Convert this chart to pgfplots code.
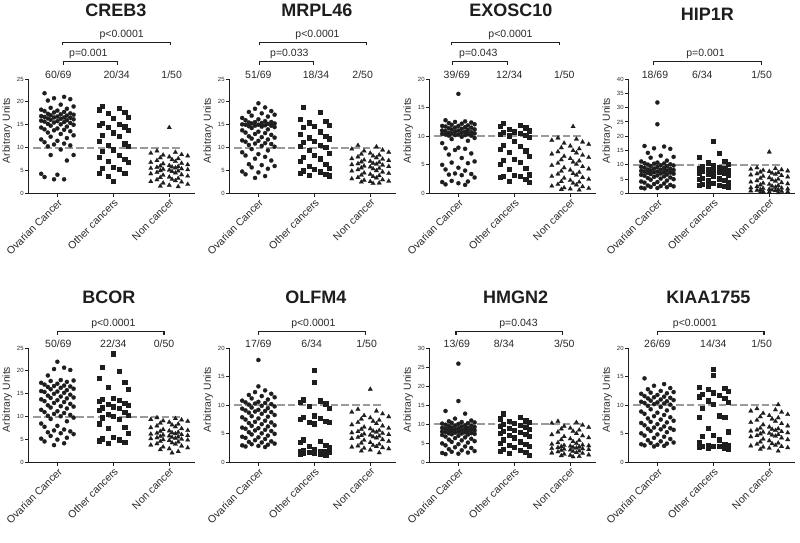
\documentclass[border=0pt]{standalone}
\usepackage{fontspec}
\setmainfont{Liberation Sans}
\usepackage{pgfplots}
\usepackage{pgfplotstable}
\pgfplotsset{compat=1.18}
\definecolor{ink}{HTML}{1E1E1E}
\definecolor{txt}{HTML}{2A2A2A}
\definecolor{dashc}{HTML}{9A9A9A}
\newcommand\lab{\fontsize{10.5}{12}\selectfont}
\pgfplotsset{
 pan/.style={scale only axis, width=166.7pt, height=114.5pt,
  xmin=-0.52, xmax=2.46, ymin=0, anchor=south west,
  axis lines*=left, axis line style={line width=1.3pt, ink},
  xtick={0,1,2}, xticklabels={Ovarian Cancer,Other cancers,Non cancer},
  x tick label style={rotate=45, anchor=north east, font=\lab, text=txt, inner sep=1pt},
  y tick label style={font=\fontsize{6}{7}\selectfont, text=txt, inner sep=1.5pt},
  ytick distance=5,
  tick style={line width=1pt, ink}, tick align=outside, major tick length=3pt,
  ylabel={Arbitrary Units},
  ylabel style={font=\fontsize{10.3}{12}\selectfont, text=txt, at={(axis description cs:-0.126,0.55)}, anchor=center},
  clip=false, /pgf/number format/assume math mode=true},
 ov/.style={only marks, mark=*, mark size=2.1pt, color=ink, mark options={line width=0.2pt}},
 ot/.style={only marks, mark=square*, mark size=2.1pt, color=ink, mark options={line width=0.2pt}},
 nc/.style={only marks, mark=triangle*, mark size=2.6pt, color=ink, mark options={line width=0.2pt}},
}
\newcommand\ovplot[1]{%
\addplot[ov] table[x expr=-0.23,y=a]{#1};
\addplot[ov] table[x expr=0.12,y=b]{#1};
\addplot[ov] table[x expr=-0.06,y=c]{#1};
\addplot[ov] table[x expr=0.23,y=d]{#1};
\addplot[ov] table[x expr=-0.17,y=e]{#1};
\addplot[ov] table[x expr=0.06,y=f]{#1};
\addplot[ov] table[x expr=0.29,y=g]{#1};
\addplot[ov] table[x expr=-0.12,y=h]{#1};
\addplot[ov] table[x expr=0.17,y=i]{#1};
\addplot[ov] table[x expr=-0.29,y=j]{#1};
\addplot[ov] table[x expr=0,y=k]{#1};}
\newcommand\otplot[1]{%
\addplot[ot] table[x expr=0.8,y=a]{#1};
\addplot[ot] table[x expr=1.1,y=b]{#1};
\addplot[ot] table[x expr=0.74,y=c]{#1};
\addplot[ot] table[x expr=1.2,y=d]{#1};
\addplot[ot] table[x expr=0.9,y=e]{#1};
\addplot[ot] table[x expr=1.26,y=f]{#1};
\addplot[ot] table[x expr=1.0,y=g]{#1};}
\newcommand\ncplot[1]{%
\addplot[nc] table[x expr=1.78,y=a]{#1};
\addplot[nc] table[x expr=2.11,y=b]{#1};
\addplot[nc] table[x expr=1.67,y=c]{#1};
\addplot[nc] table[x expr=2.22,y=d]{#1};
\addplot[nc] table[x expr=1.89,y=e]{#1};
\addplot[nc] table[x expr=2.33,y=f]{#1};
\addplot[nc] table[x expr=2.0,y=g]{#1};
\addplot[nc] table[x expr=1.84,y=h]{#1};
\addplot[nc] table[x expr=2.16,y=i]{#1};
\addplot[nc] table[x expr=2.05,y=j]{#1};}
\newcommand\thr{\draw[dashc, line width=2.2pt, dash pattern=on 7.5pt off 3.2pt] (axis cs:-0.43,10) -- (axis cs:2.22,10);}
\newcommand\fr[2]{\node[anchor=base, font=\lab, text=txt, inner sep=0pt] at (rel axis cs:#1,1.006) {#2};}
\newcommand\ttl[3]{\node[font=\bfseries\fontsize{18}{20}\selectfont, text=ink, inner sep=0pt] at (rel axis cs:#1,#2) {#3};}
\newcommand\brk[4]{\draw[ink, line width=1.5pt] (rel axis cs:#1,#4) -- (rel axis cs:#1,#3) -- (rel axis cs:#2,#3) -- (rel axis cs:#2,#4);}
\newcommand\pv[3]{\node[anchor=base, font=\lab, text=txt, inner sep=0pt] at (rel axis cs:#1,#2) {#3};}

% ---------------- CREB3
\pgfplotstableread{
a b c d e f g h i j k
21.9 21.1 20.8 20.6 20.3 19.4 19.0 18.7 18.5 18.3 18.1
18.0 17.8 17.7 17.5 17.4 17.3 17.2 17.1 17.0 16.9 16.8
16.7 16.6 16.6 16.5 16.4 16.3 16.2 16.1 16.0 15.9 15.8
15.7 15.6 15.5 15.4 15.2 15.1 15.0 14.8 14.6 14.4 14.2
14.0 13.9 13.8 13.6 13.3 13.0 12.7 12.4 12.1 11.8 11.5
11.2 10.9 10.7 10.5 10.3 9.6 8.4 8.4 7.2 4.3 4.1
3.6 3.1 3.1 nan nan nan nan nan nan nan nan
}\tCrOv
\pgfplotstableread{
a b c d e f g
19.0 18.6 18.3 17.8 17.5 16.6 16.4
15.4 15.2 15.0 14.6 14.5 13.8 13.3
12.8 12.5 11.5 10.9 10.6 10.3 9.6
9.2 8.3 8.0 7.5 7.0 6.8 5.8
5.5 5.3 4.5 4.5 3.8 nan 2.7
}\tCrOt
\pgfplotstableread{
a b c d e f g h i j
9.3 9.0 8.8 8.5 8.4 8.2 8.0 7.8 7.6 7.4
7.2 7.0 6.8 6.6 6.5 6.3 6.1 6.0 5.9 5.8
5.7 5.6 5.5 5.4 5.3 5.2 5.1 5.0 4.9 4.8
4.6 4.5 4.3 4.1 4.0 3.8 3.6 3.5 3.3 3.1
3.0 2.8 2.6 2.5 2.3 2.0 1.8 1.6 1.5 nan
}\tCrNc
% ---------------- MRPL46
\pgfplotstableread{
a b c d e f g h i j k
nan 18.8 18.5 18.0 17.8 17.5 17.2 17.0 16.8 16.5 16.2
16.0 15.8 15.6 15.6 15.5 15.4 15.3 15.3 15.2 15.1 15.0
15.0 14.9 14.8 14.8 14.7 14.6 14.5 14.3 14.0 13.8 13.5
13.3 13.2 13.0 12.8 12.5 12.3 12.2 12.0 11.8 11.6 11.5
11.3 11.0 10.9 10.8 10.6 10.4 10.2 9.7 9.4 9.0 8.6
8.3 8.0 7.6 7.2 6.4 6.2 6.0 5.7 5.4 4.8 4.6
4.2 3.8 3.4 nan nan nan nan nan nan nan nan
}\tMrOv
\pgfplotstableread{
a b c d e f g
18.8 17.8 16.2 15.8 15.5 15.0 14.8
14.5 13.5 13.0 12.5 12.2 12.0 11.5
11.2 10.6 10.4 10.1 9.5 8.8 8.3
8.0 7.6 7.0 6.5 6.0 5.5 5.3
5.0 4.8 4.5 4.3 4.0 3.9 nan
}\tMrOt
\pgfplotstableread{
a b c d e f g h i j
10.5 10.2 9.7 9.5 9.3 9.0 8.8 8.6 8.4 8.2
8.0 7.8 7.6 7.5 7.3 7.2 7.0 6.9 6.8 6.6
6.5 6.4 6.3 6.2 6.0 5.9 5.8 5.6 5.5 5.4
5.2 5.0 4.9 4.7 4.5 4.4 4.2 4.0 3.9 3.7
3.5 3.4 3.2 3.0 2.9 2.7 2.6 2.5 2.3 2.2
}\tMrNc
% ---------------- EXOSC10
\pgfplotstableread{
a b c d e f g h i j k
12.8 12.6 12.5 12.4 12.3 12.2 12.1 12.0 11.9 11.8 11.8
11.7 11.6 11.5 11.5 11.4 11.3 11.2 11.2 11.1 11.0 11.0
10.9 10.8 10.8 10.7 10.6 10.6 10.5 10.5 10.4 10.4 10.3
10.3 10.2 10.2 10.1 10.1 9.9 9.7 9.5 9.2 8.8 8.0
7.9 7.8 7.6 7.0 6.8 6.2 5.6 5.4 5.3 5.0 4.5
4.2 4.0 3.5 3.4 3.3 3.2 2.8 2.2 2.1 2.0 1.8
1.6 1.5 nan nan nan nan nan nan nan nan nan
}\tExOv
\pgfplotstableread{
a b c d e f g
12.3 12.0 11.8 11.5 11.2 11.0 10.8
10.7 10.5 10.4 10.2 10.1 9.8 9.2
8.5 8.3 7.8 7.5 7.2 6.5 6.0
5.8 5.5 5.2 4.5 4.2 3.3 3.2
3.1 3.0 2.8 2.5 2.2 2.0 nan
}\tExOt
\pgfplotstableread{
a b c d e f g h i j
9.7 9.5 9.3 9.0 8.8 8.6 8.3 8.0 7.8 7.5
7.3 7.1 6.9 6.7 6.5 6.3 6.1 5.9 5.7 5.5
5.3 5.1 4.9 4.7 4.5 4.3 4.1 3.9 3.7 3.5
3.4 3.2 3.0 2.8 2.7 2.5 2.3 2.1 2.0 1.8
1.6 1.5 1.3 1.2 1.0 0.9 0.8 0.7 0.6 nan
}\tExNc
% ---------------- HIP1R
\pgfplotstableread{
a b c d e f g h i j k
16.6 16.4 15.8 15.6 14.2 13.2 12.8 12.5 11.5 11.2 10.8
10.6 10.5 10.4 10.2 10.1 9.9 9.8 9.6 9.5 9.3 9.2
9.0 8.9 8.7 8.6 8.4 8.3 8.2 8.1 8.0 7.9 7.7
7.6 7.5 7.4 7.3 7.2 7.0 6.9 6.8 6.6 6.5 6.3
6.2 6.0 5.8 5.6 5.4 5.2 5.0 4.8 4.5 4.2 4.0
3.8 3.5 3.3 3.0 2.8 2.6 2.5 2.3 2.2 2.0 1.9
1.8 nan nan nan nan nan nan nan nan nan nan
}\tHiOv
\pgfplotstableread{
a b c d e f g
nan 14.0 12.8 11.3 10.8 10.3 9.8
9.5 9.2 9.0 8.8 8.5 8.3 8.0
7.8 7.5 7.2 7.0 6.8 6.5 6.0
5.5 5.2 5.0 4.8 4.5 4.0 3.5
3.2 3.0 2.8 2.6 2.5 2.3 nan
}\tHiOt
\pgfplotstableread{
a b c d e f g h i j
9.0 8.7 8.5 8.3 8.1 7.9 7.7 7.5 7.3 7.1
6.9 6.7 6.5 6.3 6.0 5.8 5.5 5.3 5.0 4.8
4.5 4.3 4.0 3.8 3.6 3.4 3.2 3.0 2.8 2.6
2.4 2.2 2.0 1.9 1.8 1.6 1.5 1.4 1.3 1.2
1.1 1.0 0.9 0.8 0.7 0.6 0.5 0.4 0.3 nan
}\tHiNc
% ---------------- BCOR
\pgfplotstableread{
a b c d e f g h i j k
nan 20.7 20.4 20.2 19.0 18.0 17.9 17.8 17.6 17.4 17.2
17.0 16.8 16.7 16.6 16.5 16.3 16.1 16.0 15.8 15.6 15.5
15.4 15.2 15.0 14.8 14.6 14.4 14.2 14.1 14.0 13.8 13.6
13.4 13.2 13.0 12.8 12.5 12.3 12.2 12.0 11.8 11.5 11.2
11.0 10.8 10.6 10.4 10.2 10.1 9.8 9.5 9.0 8.5 8.0
7.8 7.2 7.0 6.8 6.6 6.4 6.2 5.8 5.4 5.2 5.0
4.6 4.2 3.8 nan nan nan nan nan nan nan nan
}\tBcOv
\pgfplotstableread{
a b c d e f g
20.8 20.0 18.5 17.5 16.5 16.0 14.0
13.8 13.6 13.4 13.0 12.7 12.5 12.2
12.0 11.8 11.5 11.0 10.6 10.3 10.1
9.8 9.5 8.5 7.8 7.5 6.5 5.5
5.2 5.0 4.8 4.5 4.3 nan nan
}\tBcOt
\pgfplotstableread{
a b c d e f g h i j
9.8 9.6 9.4 9.3 9.1 9.0 8.8 8.6 8.4 8.2
8.0 7.8 7.6 7.4 7.2 7.0 6.9 6.8 6.6 6.5
6.4 6.3 6.2 6.1 6.0 5.9 5.8 5.7 5.6 5.5
5.4 5.3 5.2 5.1 5.0 4.9 4.8 4.6 4.5 4.3
4.1 4.0 3.8 3.6 3.4 3.2 3.0 2.8 2.4 2.1
}\tBcNc
% ---------------- OLFM4
\pgfplotstableread{
a b c d e f g h i j k
nan 12.6 12.3 12.0 11.8 11.6 11.4 11.2 11.0 10.8 10.6
10.5 10.4 10.3 10.2 10.1 9.9 9.8 9.6 9.5 9.4 9.2
9.1 9.0 8.9 8.8 8.7 8.5 8.3 8.1 8.0 7.9 7.7
7.5 7.3 7.1 7.0 6.9 6.7 6.5 6.4 6.3 6.1 6.0
5.9 5.7 5.6 5.5 5.3 5.1 5.0 4.9 4.7 4.5 4.4
4.3 4.1 3.9 3.7 3.6 3.5 3.3 3.2 3.1 3.0 2.9
2.8 2.7 nan nan nan nan nan nan nan nan nan
}\tOlOv
\pgfplotstableread{
a b c d e f g
11.0 10.8 10.5 10.3 9.8 9.5 8.2
8.0 7.8 7.6 7.2 7.0 7.0 6.8
4.0 3.8 3.6 3.0 2.8 2.6 2.4
2.2 2.0 2.0 1.9 1.8 1.8 1.7
1.6 1.5 1.4 1.3 nan nan nan
}\tOlOt
\pgfplotstableread{
a b c d e f g h i j
9.3 9.0 8.8 8.5 8.2 8.0 7.8 7.6 7.4 7.2
7.0 6.8 6.6 6.4 6.2 6.0 5.9 5.8 5.6 5.5
5.4 5.3 5.2 5.1 5.0 4.9 4.8 4.7 4.6 4.5
4.4 4.3 4.2 4.0 3.9 3.7 3.5 3.4 3.2 3.0
2.9 2.8 2.7 2.6 2.5 2.4 2.2 2.0 1.7 nan
}\tOlNc
% ---------------- HMGN2
\pgfplotstableread{
a b c d e f g h i j k
13.5 12.8 11.5 11.0 10.8 10.6 10.5 10.4 10.3 10.2 10.1
9.9 9.8 9.7 9.6 9.5 9.4 9.3 9.2 9.1 9.05 9.0
8.9 8.8 8.7 8.6 8.5 8.45 8.4 8.3 8.2 8.1 8.05
8.0 7.9 7.8 7.7 7.65 7.6 7.5 7.4 7.3 7.2 7.0
6.8 6.6 6.4 6.2 6.0 5.8 5.6 5.4 5.2 5.0 4.8
4.5 4.2 4.0 3.8 3.5 3.2 3.0 2.8 2.6 2.5 2.3
2.2 nan nan nan nan nan nan nan nan nan nan
}\tHmOv
\pgfplotstableread{
a b c d e f g
12.8 12.0 11.5 11.0 10.8 10.5 10.3
10.1 9.8 9.5 9.2 9.0 8.8 8.5
8.2 8.0 7.8 7.5 7.2 7.0 6.5
6.0 5.5 5.0 4.8 4.5 4.2 4.0
3.5 3.2 3.0 2.8 2.5 2.0 nan
}\tHmOt
\pgfplotstableread{
a b c d e f g h i j
10.8 10.5 10.3 9.8 9.5 9.2 9.0 8.8 8.5 8.2
8.0 7.6 7.3 7.0 6.8 6.5 6.2 6.0 5.8 5.5
5.2 5.0 4.8 4.6 4.5 4.4 4.3 4.2 4.1 4.0
3.9 3.8 3.7 3.6 3.5 3.4 3.3 3.2 3.0 2.9
2.8 2.6 2.5 2.4 2.2 2.0 1.9 1.8 1.6 1.5
}\tHmNc
% ---------------- KIAA1755
\pgfplotstableread{
a b c d e f g h i j k
14.7 13.7 13.4 13.0 12.8 12.5 12.3 12.2 12.1 12.0 11.8
11.6 11.5 11.4 11.3 11.2 11.0 10.9 10.8 10.7 10.6 10.5
10.4 10.3 10.2 10.1 9.9 9.7 9.5 9.3 9.1 8.9 8.7
8.5 8.3 8.1 7.9 7.7 7.5 7.3 7.1 7.0 6.9 6.7
6.5 6.3 6.1 6.0 5.9 5.8 5.7 5.5 5.3 5.1 4.9
4.7 4.5 4.3 4.1 3.9 3.7 3.5 3.4 3.3 3.2 3.1
3.0 2.9 2.8 nan nan nan nan nan nan nan nan
}\tKiOv
\pgfplotstableread{
a b c d e f g
nan nan 13.2 13.0 12.8 12.5 12.2
12.0 11.8 11.5 11.3 10.8 10.5 10.2
9.5 8.2 8.0 7.9 6.0 5.4 4.8
4.6 4.0 3.5 3.2 3.0 3.0 2.9
2.8 2.8 2.7 2.6 2.5 2.3 nan
}\tKiOt
\pgfplotstableread{
a b c d e f g h i j
9.4 9.2 9.0 8.8 8.6 8.4 8.2 8.0 7.8 7.6
7.4 7.2 7.0 6.8 6.6 6.4 6.2 6.0 5.9 5.8
5.7 5.6 5.5 5.4 5.3 5.2 5.1 5.0 4.9 4.8
4.7 4.6 4.5 4.3 4.1 4.0 3.8 3.6 3.4 3.3
3.2 3.0 2.9 2.8 2.7 2.6 2.5 2.3 2.0 nan
}\tKiNc

\begin{document}
\begin{tikzpicture}
\useasboundingbox (0,0) rectangle (800pt,542pt);
% ===== CREB3
\begin{axis}[pan, at={(28.3pt,348.5pt)}, ymax=25]
\ovplot{\tCrOv}\otplot{\tCrOt}\ncplot{\tCrNc}
\addplot[nc] coordinates {(2.0,14.4)};
\thr
\fr{0.18}{60/69}\fr{0.53}{20/34}\fr{0.86}{1/50}
\brk{0.206}{0.854}{1.3206}{1.2946}\pv{0.56}{1.3646}{p<0.0001}
\brk{0.21}{0.536}{1.151}{1.125}\pv{0.36}{1.195}{p=0.001}
\ttl{0.525}{1.603}{CREB3}
\end{axis}
% ===== MRPL46
\begin{axis}[pan, at={(229.3pt,348.5pt)}, ymax=25]
\ovplot{\tMrOv}\otplot{\tMrOt}\ncplot{\tMrNc}
\addplot[ov] coordinates {(0,19.7)};
\thr
\fr{0.174}{51/69}\fr{0.52}{18/34}\fr{0.80}{2/50}
\brk{0.18}{0.824}{1.3206}{1.2946}\pv{0.529}{1.3646}{p<0.0001}
\brk{0.18}{0.504}{1.151}{1.125}\pv{0.36}{1.195}{p=0.033}
\ttl{0.525}{1.603}{MRPL46}
\end{axis}
% ===== EXOSC10
\begin{axis}[pan, at={(429.3pt,348.5pt)}, ymax=20]
\ovplot{\tExOv}\otplot{\tExOt}\ncplot{\tExNc}
\addplot[ov] coordinates {(0,17.4)};
\addplot[nc] coordinates {(2.05,11.7)};
\thr
\fr{0.165}{39/69}\fr{0.48}{12/34}\fr{0.81}{1/50}
\brk{0.134}{0.78}{1.3206}{1.2946}\pv{0.487}{1.3646}{p<0.0001}
\brk{0.14}{0.47}{1.151}{1.125}\pv{0.294}{1.195}{p=0.043}
\ttl{0.489}{1.603}{EXOSC10}
\end{axis}
% ===== HIP1R
\begin{axis}[pan, at={(628.3pt,348.5pt)}, ymax=40]
\ovplot{\tHiOv}\otplot{\tHiOt}\ncplot{\tHiNc}
\addplot[ov] coordinates {(0,31.8) (0,24.2)};
\addplot[ot] coordinates {(1.0,18.2)};
\addplot[nc] coordinates {(2.0,14.5)};
\thr
\fr{0.16}{18/69}\fr{0.444}{6/34}\fr{0.80}{1/50}
\brk{0.15}{0.80}{1.151}{1.125}\pv{0.463}{1.195}{p=0.001}
\ttl{0.474}{1.566}{HIP1R}
\end{axis}
% ===== BCOR
\begin{axis}[pan, at={(28.3pt,79.5pt)}, ymax=25]
\ovplot{\tBcOv}\otplot{\tBcOt}\ncplot{\tBcNc}
\addplot[ov] coordinates {(0,22.0)};
\addplot[ot] coordinates {(1.0,23.8)};
\thr
\fr{0.18}{50/69}\fr{0.51}{22/34}\fr{0.814}{0/50}
\brk{0.174}{0.814}{1.142}{1.116}\pv{0.51}{1.186}{p<0.0001}
\ttl{0.484}{1.44}{BCOR}
\end{axis}
% ===== OLFM4
\begin{axis}[pan, at={(229.3pt,79.5pt)}, ymax=20]
\ovplot{\tOlOv}\otplot{\tOlOt}\ncplot{\tOlNc}
\addplot[ov] coordinates {(0,17.9) (0,13.3)};
\addplot[ot] coordinates {(1.0,16.1) (1.0,14.0)};
\addplot[nc] coordinates {(2.0,12.8)};
\thr
\fr{0.174}{17/69}\fr{0.494}{6/34}\fr{0.824}{1/50}
\brk{0.174}{0.818}{1.142}{1.116}\pv{0.504}{1.186}{p<0.0001}
\ttl{0.52}{1.44}{OLFM4}
\end{axis}
% ===== HMGN2
\begin{axis}[pan, at={(429.3pt,79.5pt)}, ymax=30]
\ovplot{\tHmOv}\otplot{\tHmOt}\ncplot{\tHmNc}
\addplot[ov] coordinates {(0,25.9) (0,16.1)};
\thr
\fr{0.165}{13/69}\fr{0.448}{8/34}\fr{0.81}{3/50}
\brk{0.16}{0.80}{1.142}{1.116}\pv{0.535}{1.186}{p=0.043}
\ttl{0.518}{1.44}{HMGN2}
\end{axis}
% ===== KIAA1755
\begin{axis}[pan, at={(628.3pt,79.5pt)}, ymax=20]
\ovplot{\tKiOv}\otplot{\tKiOt}\ncplot{\tKiNc}
\addplot[ot] coordinates {(1.0,16.3) (1.0,15.2)};
\addplot[nc] coordinates {(2.16,10.1)};
\thr
\fr{0.174}{26/69}\fr{0.51}{14/34}\fr{0.80}{1/50}
\brk{0.174}{0.814}{1.142}{1.116}\pv{0.40}{1.186}{p<0.0001}
\ttl{0.48}{1.44}{KIAA1755}
\end{axis}
\end{tikzpicture}
\end{document}
